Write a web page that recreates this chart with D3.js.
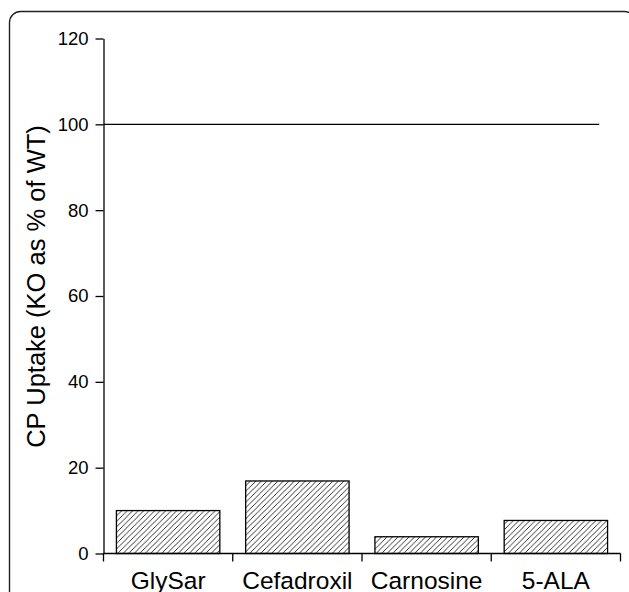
<!DOCTYPE html>
<html>
<head>
<meta charset="utf-8">
<script src="https://cdn.jsdelivr.net/npm/d3@7"></script>
<style>
  body { margin: 0; background: #fff; }
  svg { display: block; font-family: "Liberation Sans", Arial, sans-serif; }
</style>
</head>
<body>
<div id="chart"></div>
<script>
// data
var categories = ["GlySar", "Cefadroxil", "Carnosine", "5-ALA"];
var uptake = [10.0, 16.9, 3.9, 7.7];
var yTicks = [0, 20, 40, 60, 80, 100, 120];
var refLevel = 100;
var yLabel = "CP Uptake (KO as % of WT)";

var width = 629,
  height = 592,
  plotLeft = 103.5,
  plotRight = 620.5,
  plotTop = 38.5,
  plotBottom = 553.5;

var svg = d3.select("#chart").append("svg")
  .attr("width", width)
  .attr("height", height);

// hatch fill
svg.append("defs").append("pattern")
  .attr("id", "hatch")
  .attr("patternUnits", "userSpaceOnUse")
  .attr("width", 5.5)
  .attr("height", 5.5)
  .append("path")
  .attr("d", "M-1,1 l2,-2 M0,5.5 l5.5,-5.5 M4.5,6.5 l2,-2")
  .attr("stroke", "#000")
  .attr("stroke-width", 0.8);

// frame round the figure (runs off the right and bottom)
svg.append("rect")
  .attr("x", 9.5)
  .attr("y", 11.5)
  .attr("width", 626)
  .attr("height", 640)
  .attr("rx", 11)
  .attr("fill", "none")
  .attr("stroke", "#222")
  .attr("stroke-width", 1.4);

var x = d3.scaleBand().domain(categories).range([plotLeft, plotRight]).paddingInner(0).paddingOuter(0);
var y = d3.scaleLinear().domain([0, 120]).range([plotBottom, plotTop]);

// bars
svg.selectAll("rect.bar").data(uptake)
  .enter().append("rect")
  .attr("class", "bar")
  .attr("x", function(d, i) { return x(categories[i]) + x.bandwidth() * 0.1; })
  .attr("y", function(d) { return y(d); })
  .attr("width", x.bandwidth() * 0.8)
  .attr("height", function(d) { return y(0) - y(d); })
  .attr("fill", "url(#hatch)")
  .attr("stroke", "#000")
  .attr("stroke-width", 1.3);

// 100% line
svg.append("line")
  .attr("x1", plotLeft)
  .attr("x2", plotRight - x.bandwidth() * 0.165)
  .attr("y1", y(refLevel))
  .attr("y2", y(refLevel))
  .attr("stroke", "#000")
  .attr("stroke-width", 1.3);

// y axis
var yAxis = svg.append("g")
  .attr("transform", "translate(" + plotLeft + ",0)")
  .call(d3.axisLeft(y).tickValues(yTicks).tickSize(8).tickSizeOuter(0).tickPadding(7));
yAxis.select(".domain").attr("stroke-width", 1.3);
yAxis.selectAll(".tick line").attr("stroke-width", 1.3);
yAxis.selectAll(".tick text")
  .attr("font-size", "18.5px")
  .attr("font-family", "Liberation Sans, Arial, sans-serif")
  .attr("fill", "#000");

// x axis: ticks on band edges
var edges = categories.map(function(c) { return x(c); }).concat([plotRight]);
svg.append("line")
  .attr("x1", plotLeft).attr("x2", plotRight)
  .attr("y1", plotBottom).attr("y2", plotBottom)
  .attr("stroke", "#000").attr("stroke-width", 1.3);
svg.selectAll("line.xtick").data(edges)
  .enter().append("line")
  .attr("class", "xtick")
  .attr("x1", function(d) { return d; })
  .attr("x2", function(d) { return d; })
  .attr("y1", plotBottom)
  .attr("y2", plotBottom + 8)
  .attr("stroke", "#000").attr("stroke-width", 1.3);

svg.selectAll("text.cat").data(categories)
  .enter().append("text")
  .attr("class", "cat")
  .attr("x", function(d) { return x(d) + x.bandwidth() / 2; })
  .attr("y", 588.5)
  .attr("text-anchor", "middle")
  .attr("font-size", "24.5px")
  .attr("fill", "#000")
  .text(function(d) { return d; });

// y label
svg.append("text")
  .attr("transform", "translate(45," + 286.5 + ") rotate(-90)")
  .attr("text-anchor", "middle")
  .attr("font-size", "25.5px")
  .attr("fill", "#000")
  .text(yLabel);
</script>
</body>
</html>
